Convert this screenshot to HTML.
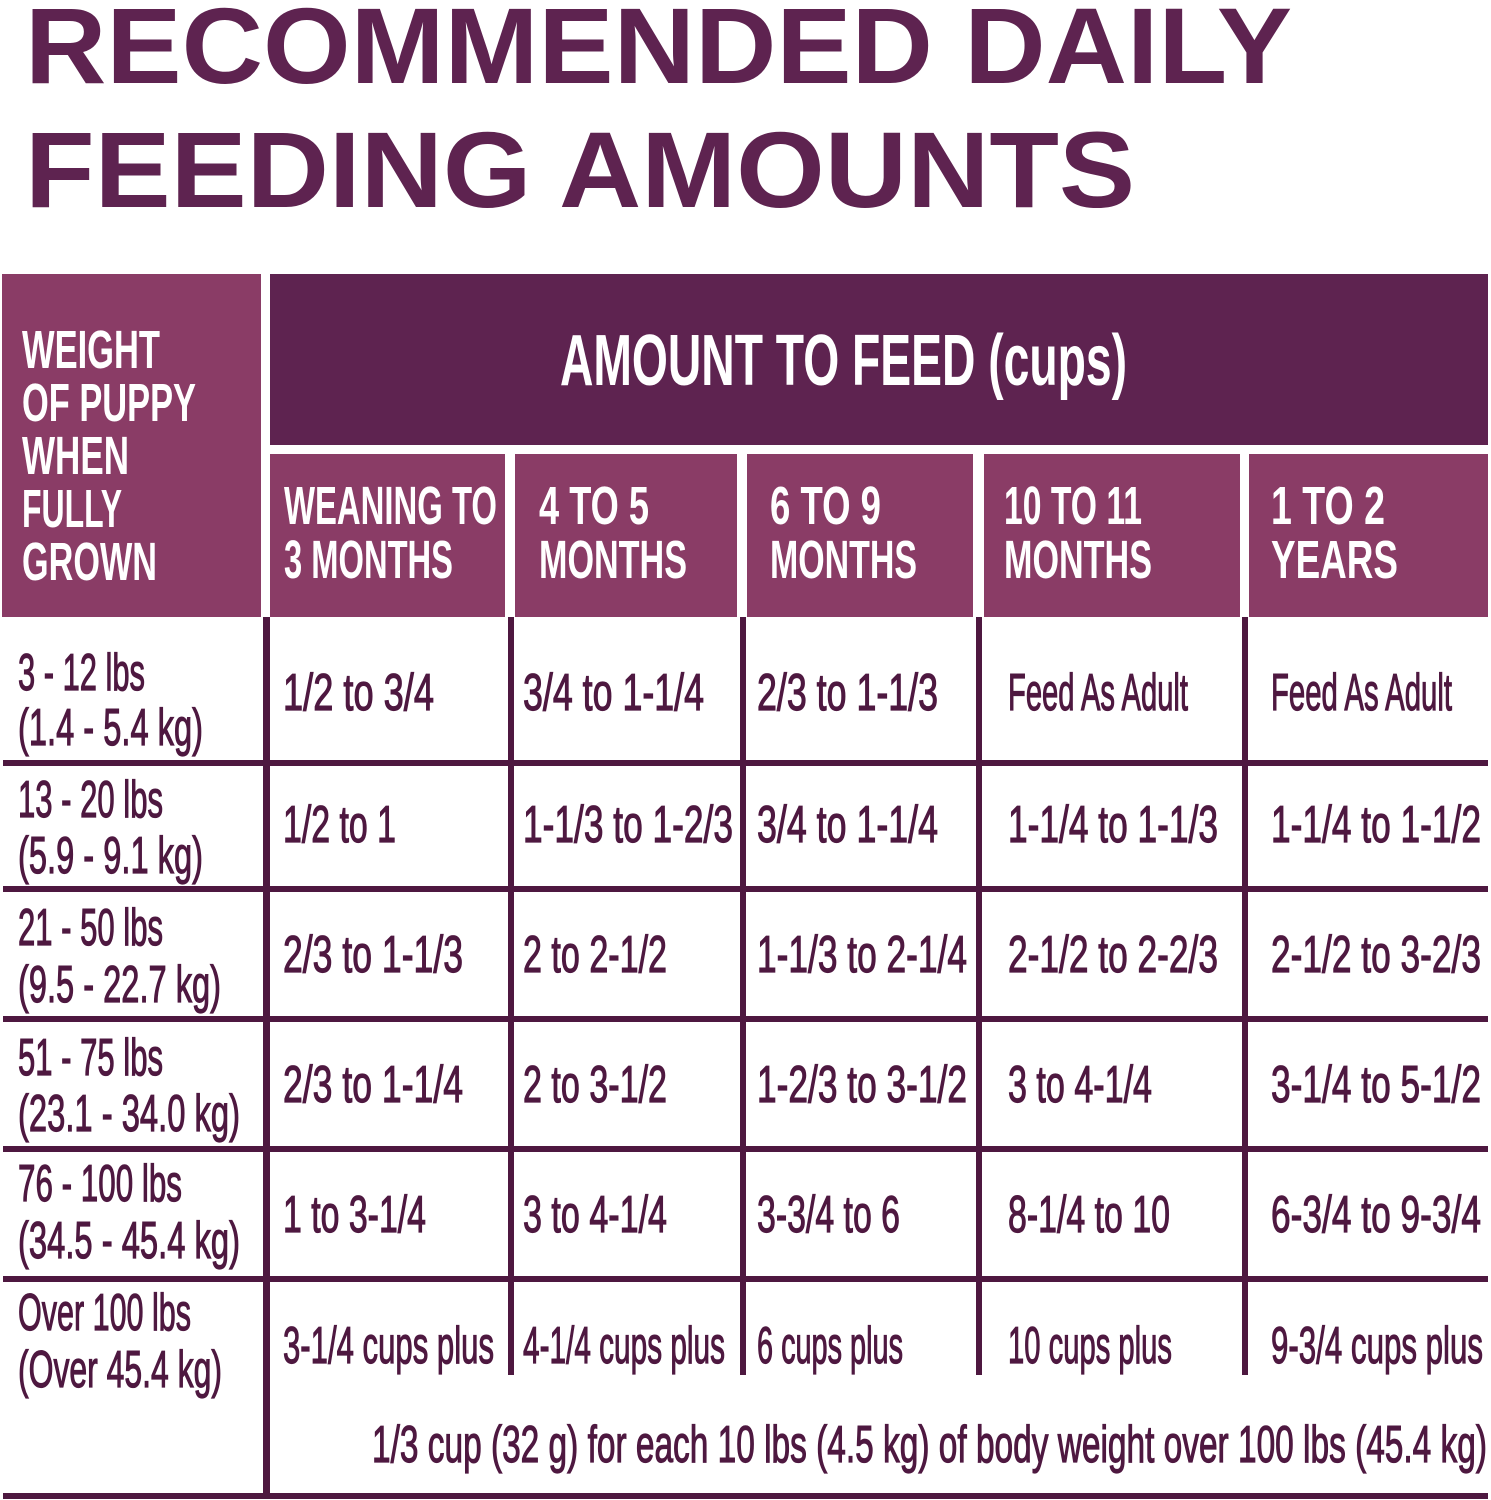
<!DOCTYPE html>
<html><head><meta charset="utf-8"><style>
html,body{margin:0;padding:0;background:#fff;width:1491px;height:1500px;overflow:hidden}
svg{display:block}
text{font-family:"Liberation Sans",sans-serif}
.b{fill:#4e1840;font-size:52px;stroke:#4e1840;stroke-width:1.2px}
.h{fill:#fff;font-size:54px;font-weight:bold}
</style></head><body>
<svg width="1491" height="1500" viewBox="0 0 1491 1500" xmlns="http://www.w3.org/2000/svg">
<g fill="#5e2350" font-weight="bold" font-size="108">
<text x="25" y="83" textLength="1267" lengthAdjust="spacingAndGlyphs">RECOMMENDED DAILY</text>
<text x="25" y="207" textLength="1110" lengthAdjust="spacingAndGlyphs">FEEDING AMOUNTS</text>
</g>
<rect x="2" y="274" width="259" height="343" fill="#8a3c66"/>
<rect x="270" y="274" width="1218" height="171" fill="#5e2350"/>
<rect x="270" y="454" width="235" height="163" fill="#8a3c66"/>
<rect x="515" y="454" width="222" height="163" fill="#8a3c66"/>
<rect x="747" y="454" width="226" height="163" fill="#8a3c66"/>
<rect x="984" y="454" width="256" height="163" fill="#8a3c66"/>
<rect x="1249" y="454" width="239" height="163" fill="#8a3c66"/>
<text x="560" y="385" fill="#fff" font-size="72" font-weight="bold" textLength="567" lengthAdjust="spacingAndGlyphs">AMOUNT TO FEED (cups)</text>
<g class="h">
<text x="22" y="368" textLength="138" lengthAdjust="spacingAndGlyphs">WEIGHT</text>
<text x="22" y="421" textLength="174" lengthAdjust="spacingAndGlyphs">OF PUPPY</text>
<text x="22" y="474" textLength="107" lengthAdjust="spacingAndGlyphs">WHEN</text>
<text x="22" y="527" textLength="100" lengthAdjust="spacingAndGlyphs">FULLY</text>
<text x="22" y="580" textLength="135" lengthAdjust="spacingAndGlyphs">GROWN</text>
<text x="284" y="524" textLength="213" lengthAdjust="spacingAndGlyphs">WEANING TO</text>
<text x="284" y="578" textLength="169" lengthAdjust="spacingAndGlyphs">3 MONTHS</text>
<text x="539" y="524" textLength="110" lengthAdjust="spacingAndGlyphs">4 TO 5</text>
<text x="539" y="578" textLength="148" lengthAdjust="spacingAndGlyphs">MONTHS</text>
<text x="770" y="524" textLength="111" lengthAdjust="spacingAndGlyphs">6 TO 9</text>
<text x="770" y="578" textLength="147" lengthAdjust="spacingAndGlyphs">MONTHS</text>
<text x="1004" y="524" textLength="138" lengthAdjust="spacingAndGlyphs">10 TO 11</text>
<text x="1004" y="578" textLength="148" lengthAdjust="spacingAndGlyphs">MONTHS</text>
<text x="1271" y="524" textLength="114" lengthAdjust="spacingAndGlyphs">1 TO 2</text>
<text x="1271" y="578" textLength="127" lengthAdjust="spacingAndGlyphs">YEARS</text>
</g>
<g fill="#4e1840">
<rect x="263" y="617" width="7" height="879"/>
<rect x="508" y="617" width="6" height="758"/>
<rect x="740" y="617" width="6" height="758"/>
<rect x="976" y="617" width="6" height="758"/>
<rect x="1242" y="617" width="6" height="758"/>
<rect x="3" y="760" width="1485" height="6"/>
<rect x="3" y="886" width="1485" height="6"/>
<rect x="3" y="1016" width="1485" height="6"/>
<rect x="3" y="1146" width="1485" height="6"/>
<rect x="3" y="1276" width="1485" height="6"/>
<rect x="3" y="1493" width="1485" height="6"/>
</g>
<g class="b">
<text x="18" y="690" textLength="127" lengthAdjust="spacingAndGlyphs">3 - 12 lbs</text>
<text x="18" y="745" textLength="185" lengthAdjust="spacingAndGlyphs">(1.4 - 5.4 kg)</text>
<text x="18" y="817" textLength="145" lengthAdjust="spacingAndGlyphs">13 - 20 lbs</text>
<text x="18" y="873" textLength="185" lengthAdjust="spacingAndGlyphs">(5.9 - 9.1 kg)</text>
<text x="18" y="945" textLength="145" lengthAdjust="spacingAndGlyphs">21 - 50 lbs</text>
<text x="18" y="1002" textLength="203" lengthAdjust="spacingAndGlyphs">(9.5 - 22.7 kg)</text>
<text x="18" y="1075" textLength="145" lengthAdjust="spacingAndGlyphs">51 - 75 lbs</text>
<text x="18" y="1131" textLength="222" lengthAdjust="spacingAndGlyphs">(23.1 - 34.0 kg)</text>
<text x="18" y="1201" textLength="164" lengthAdjust="spacingAndGlyphs">76 - 100 lbs</text>
<text x="18" y="1258" textLength="222" lengthAdjust="spacingAndGlyphs">(34.5 - 45.4 kg)</text>
<text x="18" y="1330" textLength="173" lengthAdjust="spacingAndGlyphs">Over 100 lbs</text>
<text x="18" y="1387" textLength="204" lengthAdjust="spacingAndGlyphs">(Over 45.4 kg)</text>

<text x="283" y="710" textLength="151" lengthAdjust="spacingAndGlyphs">1/2 to 3/4</text>
<text x="523" y="710" textLength="181" lengthAdjust="spacingAndGlyphs">3/4 to 1-1/4</text>
<text x="757" y="710" textLength="181" lengthAdjust="spacingAndGlyphs">2/3 to 1-1/3</text>
<text x="1008" y="710" textLength="180" lengthAdjust="spacingAndGlyphs">Feed As Adult</text>
<text x="1271" y="710" textLength="181" lengthAdjust="spacingAndGlyphs">Feed As Adult</text>

<text x="283" y="842" textLength="113" lengthAdjust="spacingAndGlyphs">1/2 to 1</text>
<text x="523" y="842" textLength="210" lengthAdjust="spacingAndGlyphs">1-1/3 to 1-2/3</text>
<text x="757" y="842" textLength="181" lengthAdjust="spacingAndGlyphs">3/4 to 1-1/4</text>
<text x="1008" y="842" textLength="210" lengthAdjust="spacingAndGlyphs">1-1/4 to 1-1/3</text>
<text x="1271" y="842" textLength="210" lengthAdjust="spacingAndGlyphs">1-1/4 to 1-1/2</text>

<text x="283" y="972" textLength="180" lengthAdjust="spacingAndGlyphs">2/3 to 1-1/3</text>
<text x="523" y="972" textLength="144" lengthAdjust="spacingAndGlyphs">2 to 2-1/2</text>
<text x="757" y="972" textLength="210" lengthAdjust="spacingAndGlyphs">1-1/3 to 2-1/4</text>
<text x="1008" y="972" textLength="210" lengthAdjust="spacingAndGlyphs">2-1/2 to 2-2/3</text>
<text x="1271" y="972" textLength="210" lengthAdjust="spacingAndGlyphs">2-1/2 to 3-2/3</text>

<text x="283" y="1102" textLength="180" lengthAdjust="spacingAndGlyphs">2/3 to 1-1/4</text>
<text x="523" y="1102" textLength="144" lengthAdjust="spacingAndGlyphs">2 to 3-1/2</text>
<text x="757" y="1102" textLength="210" lengthAdjust="spacingAndGlyphs">1-2/3 to 3-1/2</text>
<text x="1008" y="1102" textLength="144" lengthAdjust="spacingAndGlyphs">3 to 4-1/4</text>
<text x="1271" y="1102" textLength="210" lengthAdjust="spacingAndGlyphs">3-1/4 to 5-1/2</text>

<text x="283" y="1232" textLength="143" lengthAdjust="spacingAndGlyphs">1 to 3-1/4</text>
<text x="523" y="1232" textLength="144" lengthAdjust="spacingAndGlyphs">3 to 4-1/4</text>
<text x="757" y="1232" textLength="143" lengthAdjust="spacingAndGlyphs">3-3/4 to 6</text>
<text x="1008" y="1232" textLength="162" lengthAdjust="spacingAndGlyphs">8-1/4 to 10</text>
<text x="1271" y="1232" textLength="210" lengthAdjust="spacingAndGlyphs">6-3/4 to 9-3/4</text>

<text x="283" y="1363" textLength="211" lengthAdjust="spacingAndGlyphs">3-1/4 cups plus</text>
<text x="523" y="1363" textLength="202" lengthAdjust="spacingAndGlyphs">4-1/4 cups plus</text>
<text x="757" y="1363" textLength="146" lengthAdjust="spacingAndGlyphs">6 cups plus</text>
<text x="1008" y="1363" textLength="164" lengthAdjust="spacingAndGlyphs">10 cups plus</text>
<text x="1271" y="1363" textLength="212" lengthAdjust="spacingAndGlyphs">9-3/4 cups plus</text>

<text x="372" y="1462" textLength="1115" lengthAdjust="spacingAndGlyphs">1/3 cup (32 g) for each 10 lbs (4.5 kg) of body weight over 100 lbs (45.4 kg)</text>
</g>
</svg>
</body></html>
